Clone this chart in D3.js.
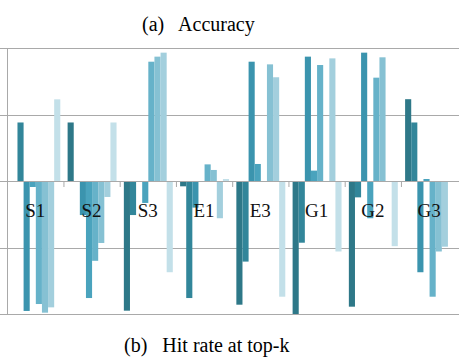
<!DOCTYPE html>
<html>
<head>
<meta charset="utf-8">
<script src="https://cdn.jsdelivr.net/npm/d3@7"></script>
<style>
  body { margin: 0; background: #fff; }
  svg { display: block; }
</style>
</head>
<body>
<div id="chart"></div>
<script>
const width = 459;
const height = 361;

// categories along the x axis
const categories = ["S1", "S2", "S3", "E1", "E3", "G1", "G2", "G3"];
const seriesNames = ["s0", "s1", "s2", "s3", "s4", "s5", "s6", "s7"];

// one array per series, values in category order
const s0 = [0, 44, -97.5, -4, -93, -100, -94.5, 61.5];
const s1 = [44, 0, -25.6, -88, -60.6, -46.4, -12.3, 44];
const s2 = [-97.7, -25.6, 0, -20, 89.7, 93.5, 96.5, -68.6];
const s3 = [-4.5, -88, -16.5, 0, 12.8, 7.8, -28, 1.5];
const s4 = [-92.5, -60, 89.7, 12.5, 0, 87.2, 77.7, -87];
const s5 = [-99, -46.6, 93.5, 8.3, 87.7, 0, 93, -53];
const s6 = [-95, -12, 96.5, -28, 78, 92.2, 0, -49.4];
const s7 = [61.4, 44, -68.6, 1.5, -87, -53, -49, 0];

const yTicks = [-100, -50, 0, 50, 100];
const colors = ["#2e7888", "#32869a", "#3b94ae", "#4aa3bd", "#66b2c9", "#86c1d3", "#a3cfdd", "#c3e0e9"];

const allSeries = [s0, s1, s2, s3, s4, s5, s6, s7];

const svg = d3.select("#chart")
  .append("svg")
  .attr("width", width)
  .attr("height", height);

const x0 = d3.scaleBand()
  .domain(categories)
  .range([7.7, 457.7])
  .paddingInner(0.13)
  .paddingOuter(0.065);

const x1 = d3.scaleBand()
  .domain(seriesNames)
  .range([0, x0.bandwidth()]);

const y = d3.scaleLinear()
  .domain([-100, 100])
  .range([314, 48]);

const color = d3.scaleOrdinal().domain(seriesNames).range(colors);

// gridlines
svg.append("g")
  .selectAll("line")
  .data(yTicks)
  .enter().append("line")
  .attr("x1", 0)
  .attr("x2", width)
  .attr("y1", d => Math.round(y(d)) + 0.5)
  .attr("y2", d => Math.round(y(d)) + 0.5)
  .style("stroke", "#a9a9a9")
  .style("stroke-width", 1);

// left axis line
svg.append("line")
  .attr("x1", 7.5).attr("x2", 7.5)
  .attr("y1", y(100)).attr("y2", y(-100))
  .style("stroke", "#a9a9a9");

// bars
const groups = svg.append("g")
  .selectAll("g")
  .data(categories)
  .enter().append("g")
  .attr("transform", d => `translate(${x0(d)},0)`);

groups.selectAll("rect")
  .data((c, i) => seriesNames.map((s, j) => ({ key: s, value: allSeries[j][i] })))
  .enter().append("rect")
  .attr("x", d => x1(d.key))
  .attr("width", x1.bandwidth())
  .attr("y", d => y(Math.max(0, d.value)))
  .attr("height", d => Math.abs(y(d.value) - y(0)))
  .style("fill", d => color(d.key));

// zero line with category ticks
svg.append("line")
  .attr("x1", 7.5).attr("x2", width)
  .attr("y1", Math.round(y(0)) + 0.5).attr("y2", Math.round(y(0)) + 0.5)
  .style("stroke", "#a9a9a9");

const step = x0.step();
svg.append("g")
  .selectAll("line")
  .data(categories.slice(1))
  .enter().append("line")
  .attr("x1", d => x0(d) - step * x0.paddingInner() / 2)
  .attr("x2", d => x0(d) - step * x0.paddingInner() / 2)
  .attr("y1", y(0))
  .attr("y2", y(0) + 6)
  .style("stroke", "#a9a9a9");

// category labels
svg.append("g")
  .selectAll("text")
  .data(categories)
  .enter().append("text")
  .attr("x", d => x0(d) + x0.bandwidth() / 2 - 0.5)
  .attr("y", 217)
  .attr("text-anchor", "middle")
  .style("font-family", "'Liberation Serif', 'DejaVu Serif', serif")
  .style("font-size", "19px")
  .style("fill", "#111")
  .text(d => d);

// panel captions
svg.append("text")
  .attr("x", 142)
  .attr("y", 31)
  .style("font-family", "'Liberation Serif', serif")
  .style("font-size", "20px")
  .style("fill", "#000")
  .attr("xml:space", "preserve")
  .text("(a)   Accuracy");

svg.append("text")
  .attr("x", 124)
  .attr("y", 352)
  .style("font-family", "'Liberation Serif', serif")
  .style("font-size", "20px")
  .style("fill", "#000")
  .attr("xml:space", "preserve")
  .text("(b)   Hit rate at top-k");
</script>
</body>
</html>
